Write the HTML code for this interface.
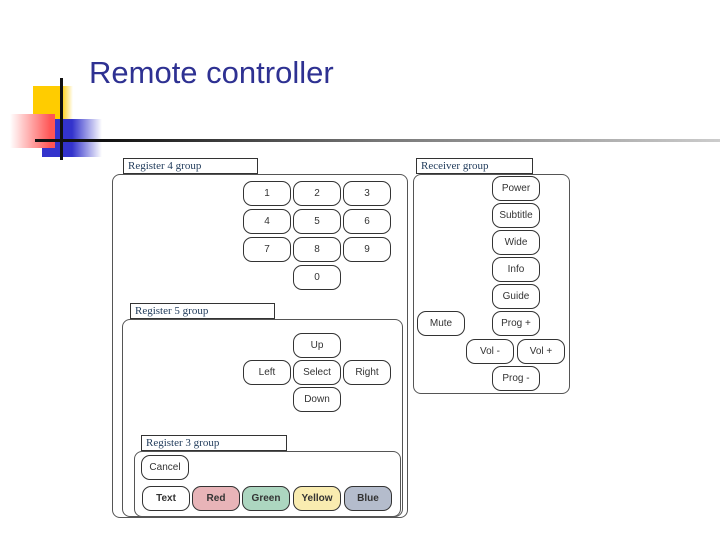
<!DOCTYPE html>
<html><head><style>
body{margin:0;width:720px;height:540px;background:#fff;position:relative;overflow:hidden;font-family:"Liberation Sans",sans-serif}
div{position:absolute;box-sizing:border-box}
.lbl{border:1px solid #333;font-family:"Liberation Serif",serif;font-size:11px;color:#1f3a5a;padding-left:4px;line-height:15px;background:#fff}
.grp{border:1px solid #555;border-radius:8px}
.b{width:48px;height:25px;border:1.5px solid #333;border-radius:9px;font-size:10px;color:#333;display:flex;align-items:center;justify-content:center;background:#fff}
</style></head><body>
<div style="left:33px;top:86px;width:40px;height:34px;background:linear-gradient(90deg,#ffcc00 70%,#fff)"></div>
<div style="left:42px;top:119px;width:60px;height:38px;background:linear-gradient(90deg,#3333cc 50%,#fff)"></div>
<div style="left:10px;top:114px;width:45px;height:34px;background:linear-gradient(90deg,#fff,#ff5555 90%)"></div>
<div style="left:60px;top:78px;width:3px;height:82px;background:#111"></div>
<div style="left:35px;top:139px;width:685px;height:3px;background:linear-gradient(90deg,#111 10%,#777 50%,#ccc)"></div>
<div style="left:89px;top:55px;font-size:31px;color:#2e3192;white-space:nowrap">Remote controller</div>

<div class="grp" style="left:112px;top:174px;width:296px;height:344px"></div>
<div class="lbl" style="left:123px;top:158px;width:135px;height:16px">Register 4 group</div>
<div class="grp" style="left:122px;top:319px;width:281px;height:198px"></div>
<div class="lbl" style="left:130px;top:303px;width:145px;height:16px">Register 5 group</div>
<div class="grp" style="left:134px;top:451px;width:267px;height:66px"></div>
<div class="lbl" style="left:141px;top:435px;width:146px;height:16px">Register 3 group</div>
<div class="grp" style="left:413px;top:174px;width:157px;height:220px"></div>
<div class="lbl" style="left:416px;top:158px;width:117px;height:16px">Receiver group</div>

<div class="b" style="left:243px;top:181px">1</div>
<div class="b" style="left:293px;top:181px">2</div>
<div class="b" style="left:343px;top:181px">3</div>
<div class="b" style="left:243px;top:209px">4</div>
<div class="b" style="left:293px;top:209px">5</div>
<div class="b" style="left:343px;top:209px">6</div>
<div class="b" style="left:243px;top:237px">7</div>
<div class="b" style="left:293px;top:237px">8</div>
<div class="b" style="left:343px;top:237px">9</div>
<div class="b" style="left:293px;top:265px">0</div>

<div class="b" style="left:293px;top:333px">Up</div>
<div class="b" style="left:243px;top:360px">Left</div>
<div class="b" style="left:293px;top:360px">Select</div>
<div class="b" style="left:343px;top:360px">Right</div>
<div class="b" style="left:293px;top:387px">Down</div>

<div class="b" style="left:141px;top:455px">Cancel</div>
<div class="b" style="left:142px;top:486px;font-weight:bold">Text</div>
<div class="b" style="left:192px;top:486px;background:#e8b4b8;font-weight:bold">Red</div>
<div class="b" style="left:242px;top:486px;background:#acd6c0;font-weight:bold">Green</div>
<div class="b" style="left:293px;top:486px;background:#f9ecb0;font-weight:bold">Yellow</div>
<div class="b" style="left:344px;top:486px;background:#b4bccc;font-weight:bold">Blue</div>

<div class="b" style="left:492px;top:176px">Power</div>
<div class="b" style="left:492px;top:203px">Subtitle</div>
<div class="b" style="left:492px;top:230px">Wide</div>
<div class="b" style="left:492px;top:257px">Info</div>
<div class="b" style="left:492px;top:284px">Guide</div>
<div class="b" style="left:492px;top:311px">Prog +</div>
<div class="b" style="left:417px;top:311px">Mute</div>
<div class="b" style="left:466px;top:339px">Vol -</div>
<div class="b" style="left:517px;top:339px">Vol +</div>
<div class="b" style="left:492px;top:366px">Prog -</div>
</body></html>
